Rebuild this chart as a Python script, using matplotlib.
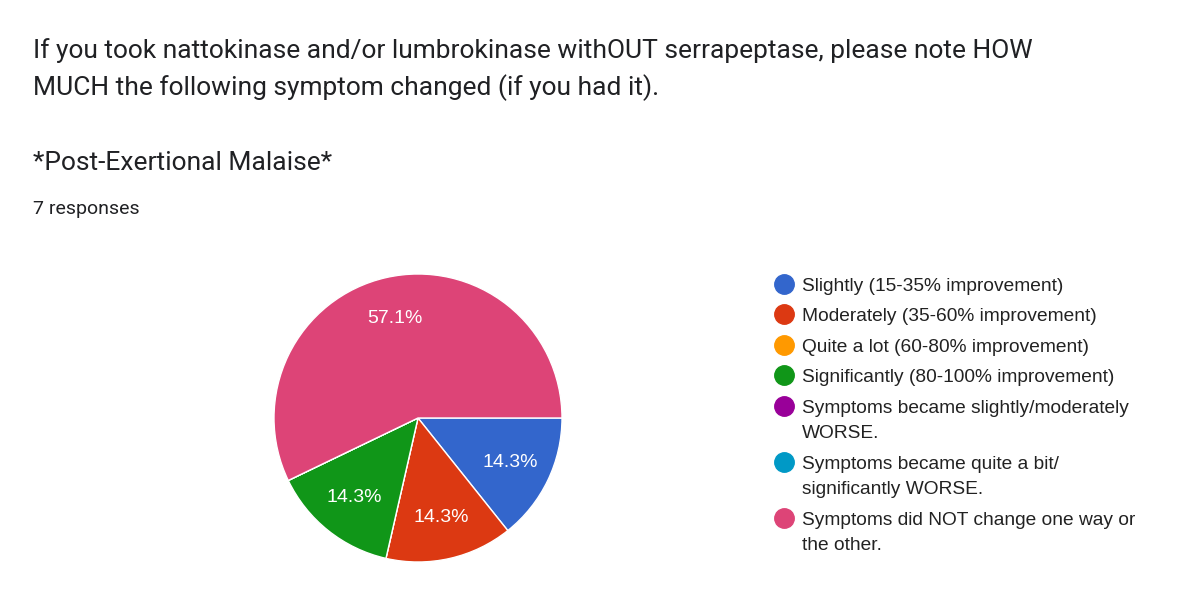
import matplotlib
matplotlib.use("Agg")
import matplotlib.pyplot as plt

# Données du sondage
categories = [
    "Slightly (15-35% improvement)",
    "Moderately (35-60% improvement)",
    "Quite a lot (60-80% improvement)",
    "Significantly (80-100% improvement)",
    "Symptoms became slightly/moderately\nWORSE.",
    "Symptoms became quite a bit/\nsignificantly WORSE.",
    "Symptoms did NOT change one way or\nthe other.",
]
counts = [1, 1, 0, 1, 0, 0, 4]
colors = ["#3366cc", "#dc3912", "#ff9900", "#109618", "#990099", "#0099c6", "#dd4477"]

title = ("If you took nattokinase and/or lumbrokinase withOUT serrapeptase, please note HOW\n"
         "MUCH the following symptom changed (if you had it).")
subtitle = "*Post-Exertional Malaise*"
n_resp = "7 responses"

W, H = 1200, 601
fig = plt.figure(figsize=(W / 100, H / 100), dpi=100)
fig.patch.set_facecolor("white")

# axe "pixels" pour les textes et la légende
bg = fig.add_axes([0, 0, 1, 1])
bg.set_xlim(0, W)
bg.set_ylim(H, 0)
bg.axis("off")

bg.text(33, 58, title.split("\n")[0], fontsize=19, family="Roboto", color="#202124", va="baseline")
bg.text(33, 95, title.split("\n")[1], fontsize=19, family="Roboto", color="#202124", va="baseline")
bg.text(33, 170, subtitle, fontsize=19, family="Roboto", color="#202124", va="baseline")
bg.text(33, 214, n_resp, fontsize=14, family="Roboto", color="#202124", va="baseline")

# légende manuelle
row_y = [284, 314, 345, 375, 406, 462, 518]
for lab, col, y in zip(categories, colors, row_y):
    bg.plot(784, y, "o", ms=14, color=col)
    for i, ln in enumerate(lab.split("\n")):
        bg.text(802, y + 7 + i * 25, ln, fontsize=13.8, family="Liberation Sans",
                color="#222222", va="baseline")

# camembert
cx, cy, r = 418, 418, 144
ax = fig.add_axes([(cx - r) / W, (H - cy - r) / H, 2 * r / W, 2 * r / H])


def fmt(p):
    return "%.1f%%" % p if p > 1 else ""


wedges, texts, autotexts = ax.pie(counts, colors=colors, startangle=0, counterclock=False,
                                  autopct=fmt, pctdistance=0.71,
                                  wedgeprops=dict(edgecolor="white", linewidth=1),
                                  textprops=dict(color="white", fontsize=14, family="Liberation Sans"))
ax.set_xlim(-1, 1)
ax.set_ylim(-1, 1)

fig.savefig("out.png", dpi=100, facecolor="white")
